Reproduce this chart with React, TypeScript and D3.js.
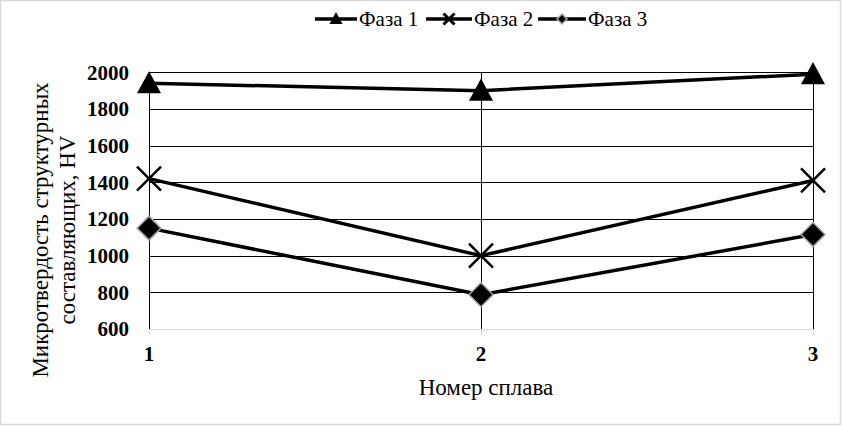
import React from "react";
import * as d3 from "d3";

const categories = ["1", "2", "3"];
const phase1 = [1940, 1900, 1990];
const phase2 = [1420, 1000, 1410];
const phase3 = [1150, 787, 1115];
const yTicks = [600, 800, 1000, 1200, 1400, 1600, 1800, 2000];
const seriesNames = ["Фаза 1", "Фаза 2", "Фаза 3"];

const W = 843;
const H = 426;
const FONT = "Liberation Serif";

function Marker({ kind, x, y, s }: { kind: number; x: number; y: number; s: number }) {
  if (kind === 0) {
    const h = s * 0.92;
    return (
      <path
        d={`M${x},${y - h / 2 - 1}L${x + s / 2},${y + h / 2 - 1}L${x - s / 2},${y + h / 2 - 1}Z`}
        fill="#000"
      />
    );
  }
  if (kind === 1) {
    const r = s / 2;
    return (
      <path
        d={`M${x - r},${y - r}L${x + r},${y + r}M${x - r},${y + r}L${x + r},${y - r}`}
        stroke="#000"
        strokeWidth={s > 15 ? 2.5 : 3}
        fill="none"
      />
    );
  }
  const r = s / 2;
  return (
    <path
      d={`M${x},${y - r}L${x + r},${y}L${x},${y + r}L${x - r},${y}Z`}
      fill="#000"
      stroke="#a6a6a6"
      strokeWidth={1.5}
    />
  );
}

export default function App() {
  const x = d3.scalePoint<string>().domain(categories).range([149, 813]);
  const y = d3.scaleLinear().domain([600, 2000]).range([329, 72.3]);
  const series = [phase1, phase2, phase3];
  const line = d3
    .line<number>()
    .x((_, i) => x(categories[i]) as number)
    .y((d) => y(d));
  const legendItems = [
    { lx: 315, tx: 359 },
    { lx: 426, tx: 474 },
    { lx: 538, tx: 588 },
  ];
  const legendLen = [42, 46, 48];
  const markerSizes = [24, 24, 24];
  const legendMarkerSizes = [13, 11, 10];

  return (
    <div style={{ position: "absolute", left: 0, top: 0 }}>
      <svg width={W} height={H} style={{ display: "block" }}>
        <rect x={0.5} y={0.5} width={840} height={424} fill="#fff" stroke="#d9d9d9" strokeWidth={1.5} />
        {yTicks.slice(1).map((t) => (
          <line key={t} x1={149} x2={813} y1={Math.round(y(t)) + 0.5} y2={Math.round(y(t)) + 0.5} stroke="#000" strokeWidth={1} />
        ))}
        {categories.map((c) => (
          <line key={c} x1={Math.round(x(c) as number) + 0.5} x2={Math.round(x(c) as number) + 0.5} y1={y(2000)} y2={y(600)} stroke="#000" strokeWidth={1} />
        ))}
        <line x1={149} x2={813} y1={Math.round(y(600)) + 0.5} y2={Math.round(y(600)) + 0.5} stroke="#d9d9d9" strokeWidth={1} />
        {categories.map((c) => (
          <line key={"t" + c} x1={Math.round(x(c) as number) + 0.5} x2={Math.round(x(c) as number) + 0.5} y1={y(600)} y2={y(600) + 6} stroke="#d9d9d9" strokeWidth={1} />
        ))}
        {yTicks.map((t) => (
          <text key={"y" + t} x={129} y={y(t)} dy="0.35em" textAnchor="end" fontWeight="bold" fontSize={21} fontFamily={FONT}>
            {t}
          </text>
        ))}
        {categories.map((c) => (
          <text key={"x" + c} x={x(c)} y={354} dy="0.35em" textAnchor="middle" fontWeight="bold" fontSize={21} fontFamily={FONT}>
            {c}
          </text>
        ))}
        <text x={486} y={395} textAnchor="middle" fontSize={23} fontFamily={FONT}>
          Номер сплава
        </text>
        <g transform="translate(48,230) rotate(-90)">
          <text x={0} y={0} textAnchor="middle" fontSize={23} fontFamily={FONT}>
            Микротвердость структурных
          </text>
          <text x={0} y={27} textAnchor="middle" fontSize={23} fontFamily={FONT}>
            составляющих, HV
          </text>
        </g>
        {series.map((s, i) => (
          <path key={"l" + i} d={line(s) || ""} fill="none" stroke="#000" strokeWidth={3.5} strokeLinejoin="round" />
        ))}
        {series.map((s, i) =>
          s.map((v, j) => (
            <Marker key={`m${i}-${j}`} kind={i} x={x(categories[j]) as number} y={y(v)} s={markerSizes[i]} />
          ))
        )}
        {seriesNames.map((n, i) => (
          <g key={"lg" + i}>
            <line x1={legendItems[i].lx} x2={legendItems[i].lx + legendLen[i]} y1={19} y2={19} stroke="#000" strokeWidth={3.5} />
            <Marker kind={i} x={legendItems[i].lx + legendLen[i] / 2} y={19} s={legendMarkerSizes[i]} />
            <text x={legendItems[i].tx} y={26} fontSize={21} fontFamily={FONT}>
              {n}
            </text>
          </g>
        ))}
      </svg>
    </div>
  );
}
